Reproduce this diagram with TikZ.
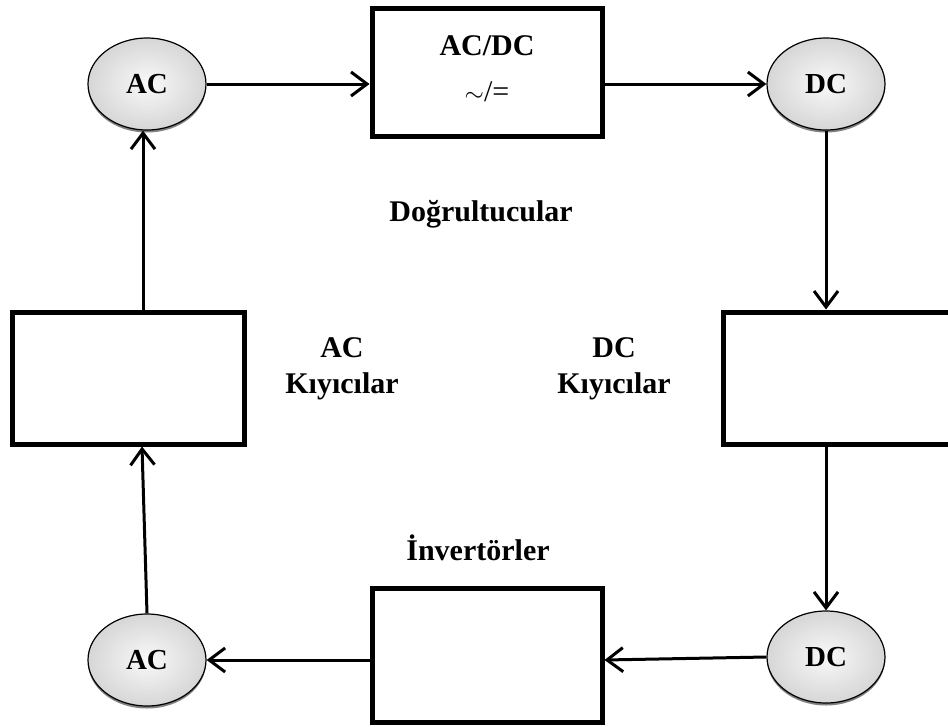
\documentclass[tikz,border=0pt]{standalone}
\usepackage{fontspec}
\setmainfont{Liberation Serif}
\usetikzlibrary{arrows.meta,shapes.geometric,shadows}
\begin{document}
\begin{tikzpicture}[x=1pt,y=-1pt,
  oval/.style={ellipse,draw=black,line width=1.2pt,minimum width=118pt,minimum height=92pt,
    inner sep=0pt,shading=radial,inner color=gray!5,outer color=gray!32,
    drop shadow={shadow xshift=0pt,shadow yshift=-2.5pt,fill=black!70,opacity=0.7},
    font=\fontsize{29}{32}\selectfont\bfseries},
  blk/.style={rectangle,draw=black,line width=5pt,fill=white,inner sep=0pt},
  conn/.style={line width=3pt,-{Straight Barb[length=16pt,width=24pt,line width=3pt]}},
  lbl/.style={font=\fontsize{30}{36}\selectfont\bfseries,align=center,inner sep=0pt}]
\useasboundingbox (0,0) rectangle (948,726);
\fill[white] (0,0) rectangle (948,726);
% nodes
\node[oval] (ac1) at (147,84) {AC};
\node[blk,minimum width=230pt,minimum height=128pt] (conv) at (487,72) {};
\node[lbl] (convt) at (487,46) {AC/DC};
\node[font=\fontsize{30}{36}\selectfont,inner sep=0pt] (convs) at (487,92) {$\sim$/=};
\node[oval] (dc1) at (826,84) {DC};
\node[blk,minimum width=240pt,minimum height=132pt] (rbox) at (843,378) {};
\node[oval] (dc2) at (826,657) {DC};
\node[blk,minimum width=230pt,minimum height=134pt] (bbox) at (487,655) {};
\node[oval] (ac2) at (147,660) {AC};
\node[blk,minimum width=232pt,minimum height=132pt] (lbox) at (128,378) {};
% labels
\node[lbl] (t1) at (481,214) {Doğrultucular};
\node[lbl] (t2) at (342,369) {AC\\Kıyıcılar};
\node[lbl] (t3) at (614,369) {DC\\Kıyıcılar};
\node[lbl] (t4) at (478,548) {İnvertörler};
% connectors
\draw[conn] (ac1.east) -- (conv.west |- ac1.east);
\draw[conn] (conv.east |- dc1.west) -- (dc1.west);
\draw[conn] (dc1.south) -- (dc1.south |- rbox.north);
\draw[conn] (dc1.south |- rbox.south) -- (dc2.north);
\draw[conn] (dc2.west) -- ([yshift=-5pt]bbox.east);
\draw[conn] ([yshift=-5pt]bbox.west) -- (ac2.east);
\draw[conn] (ac2.north) -- ([xshift=14pt]lbox.south);
\draw[conn] ([xshift=15pt]lbox.north) -- ([xshift=-4pt]ac1.south);
\end{tikzpicture}
\end{document}
